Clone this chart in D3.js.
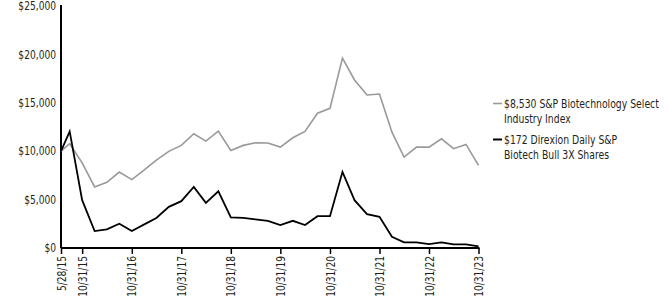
<!DOCTYPE html>
<html>
<head>
<meta charset="utf-8">
<script src="https://cdn.jsdelivr.net/npm/d3@7"></script>
<style>
  body { margin: 0; background: #fff; }
  svg text { font-family: "DejaVu Sans Condensed", "DejaVu Sans", sans-serif; font-stretch: condensed; fill: #231f20; }
</style>
</head>
<body>
<svg width="671" height="303"></svg>
<script>
(function () {

// quarter-end dates (fiscal year ends 10/31)
var dates = [
  "2015-05-28","2015-07-31","2015-10-31",
  "2016-01-31","2016-04-30","2016-07-31","2016-10-31",
  "2017-01-31","2017-04-30","2017-07-31","2017-10-31",
  "2018-01-31","2018-04-30","2018-07-31","2018-10-31",
  "2019-01-31","2019-04-30","2019-07-31","2019-10-31",
  "2020-01-31","2020-04-30","2020-07-31","2020-10-31",
  "2021-01-31","2021-04-30","2021-07-31","2021-10-31",
  "2022-01-31","2022-04-30","2022-07-31","2022-10-31",
  "2023-01-31","2023-04-30","2023-07-31","2023-10-31"
];

var indexValues = [
  10000, 10770, 8800,
  6310, 6790, 7850, 7070,
  8060, 9070, 9980, 10600,
  11800, 11040, 12070, 10080,
  10600, 10870, 10840, 10420,
  11390, 12040, 13920, 14430,
  19620, 17360, 15810, 15910,
  11970, 9400, 10420, 10420,
  11280, 10260, 10700, 8530
];

var fundValues = [
  10000, 12040, 4940,
  1750, 1920, 2500, 1750,
  2440, 3100, 4250, 4840,
  6310, 4660, 5860, 3160,
  3120, 2950, 2800, 2370,
  2810, 2370, 3290, 3290,
  7850, 4940, 3500, 3220,
  1160, 590, 590, 410,
  590, 380, 380, 172
];

var xTickDates = ["2015-05-28","2015-10-31","2016-10-31","2017-10-31","2018-10-31",
                  "2019-10-31","2020-10-31","2021-10-31","2022-10-31","2023-10-31"];
var yTicks = [0, 5000, 10000, 15000, 20000, 25000];

var legendLines = [
  ["$8,530 S&P Biotechnology Select", "Industry Index"],
  ["$172 Direxion Daily S&P", "Biotech Bull 3X Shares"]
];

var parse = d3.timeParse("%Y-%m-%d");
var fmt = d3.timeFormat("%-m/%-d/%y");

var svg = d3.select('svg');

var left = 61, right = 478.5, top = 6, bottom = 248;
var squeeze = 0.88; // horizontal squeeze to mimic the condensed face

var x = d3.scaleTime()
  .domain([parse(dates[0]), parse(dates[dates.length - 1])])
  .range([left, right]);

var y = d3.scaleLinear()
  .domain([0, 25000])
  .range([bottom, top]);

// y axis: labels only, no tick marks
var yAxis = d3.axisLeft(y)
  .tickValues(yTicks)
  .tickSize(0)
  .tickPadding(5)
  .tickFormat(function (d) { return "$" + d3.format(",")(d); });

var gy = svg.append('g')
  .attr('transform', 'translate(' + left + ',0)')
  .call(yAxis);
gy.select('.domain').remove();
gy.selectAll('text')
  .style('font-size', '11.5px')
  .attr('x', -5 / squeeze)
  .attr('transform', 'scale(' + squeeze + ',1)');

// x axis with downward ticks, rotated labels
var xAxis = d3.axisBottom(x)
  .tickValues(xTickDates.map(parse))
  .tickSize(6)
  .tickPadding(3)
  .tickFormat(fmt);

var gx = svg.append('g')
  .attr('transform', 'translate(0,' + bottom + ')')
  .call(xAxis);
gx.select('.domain').remove();
gx.selectAll('.tick line').style('stroke', '#000').style('stroke-width', 1.5);
gx.selectAll('text')
  .style('font-size', '11.5px')
  .attr('transform', 'rotate(-90) scale(' + squeeze + ',1)')
  .attr('text-anchor', 'end')
  .attr('x', -8 / squeeze)
  .attr('y', 0)
  .attr('dy', '0.35em');

// axis lines
svg.append('line')
  .attr('x1', left).attr('x2', left)
  .attr('y1', top - 1).attr('y2', bottom)
  .style('stroke', '#000').style('stroke-width', 2);
svg.append('line')
  .attr('x1', left).attr('x2', right + 1)
  .attr('y1', bottom).attr('y2', bottom)
  .style('stroke', '#000').style('stroke-width', 2);

var line = d3.line()
  .x(function (d, i) { return x(parse(dates[i])); })
  .y(function (d) { return y(d); });

svg.append('path')
  .datum(indexValues)
  .attr('d', line)
  .style('fill', 'none')
  .style('stroke', '#999999')
  .style('stroke-width', 1.6);

svg.append('path')
  .datum(fundValues)
  .attr('d', line)
  .style('fill', 'none')
  .style('stroke', '#000')
  .style('stroke-width', 1.8);

// legend
var legendColors = ['#999999', '#000'];
var legendY = [103.5, 139.5];
legendLines.forEach(function (lines, i) {
  svg.append('line')
    .attr('x1', 493).attr('x2', 502)
    .attr('y1', legendY[i]).attr('y2', legendY[i])
    .style('stroke', legendColors[i]).style('stroke-width', i ? 2 : 1.6);
  var g = svg.append('g')
    .attr('transform', 'translate(504,0) scale(0.86,1)');
  lines.forEach(function (t, j) {
    g.append('text')
      .attr('x', 0)
      .attr('y', legendY[i] + j * 15.5)
      .attr('dy', '0.35em')
      .style('font-size', '12px')
      .text(t);
  });
});

})();
</script>
</body>
</html>
